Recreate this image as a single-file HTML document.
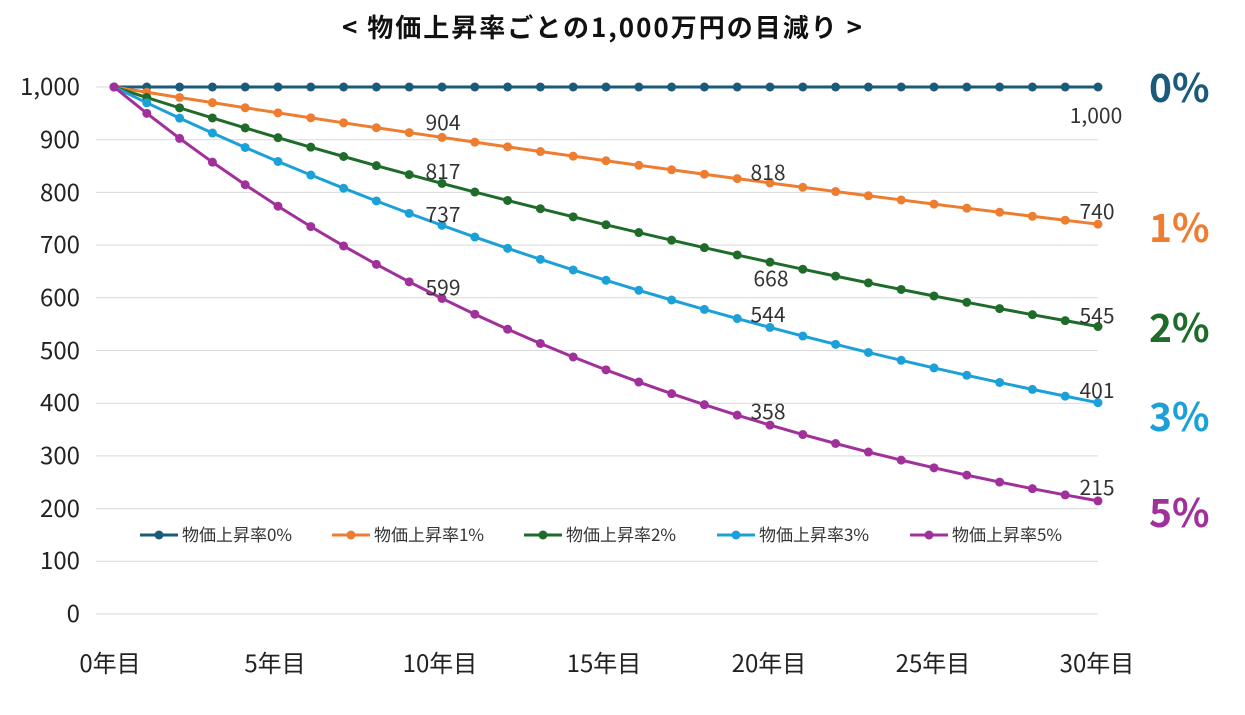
<!DOCTYPE html>
<html><head><meta charset="utf-8"><style>
body{margin:0;background:#fff;}
svg{display:block;font-family:"Noto Sans CJK JP","Liberation Sans",sans-serif;}
</style></head><body>
<svg id="c" width="1245" height="715" xmlns="http://www.w3.org/2000/svg">
<text x="603" y="37" text-anchor="middle" font-size="26" font-weight="bold" letter-spacing="2" fill="#111">&lt; 物価上昇率ごとの1,000万円の目減り &gt;</text>
<g id="grid" stroke="#d9d9d9" stroke-width="1"></g>
<g font-size="24" fill="#222" text-anchor="end">
<text x="80" y="95">1,000</text><text x="80" y="148">900</text><text x="80" y="201">800</text><text x="80" y="253">700</text><text x="80" y="306">600</text><text x="80" y="359">500</text><text x="80" y="411">400</text><text x="80" y="464">300</text><text x="80" y="517">200</text><text x="80" y="569">100</text><text x="80" y="622">0</text>
</g>
<g font-size="24" fill="#222" text-anchor="middle">
<text x="110" y="672">0年目</text><text x="275" y="672">5年目</text><text x="440" y="672">10年目</text><text x="604" y="672">15年目</text><text x="769" y="672">20年目</text><text x="933" y="672">25年目</text><text x="1097" y="672">30年目</text>
</g>
<g id="series"></g>
<g font-size="21" fill="#333" text-anchor="middle">
<text x="1096" y="123">1,000</text>
<text x="443" y="130">904</text><text x="768" y="180">818</text><text x="1097" y="219">740</text>
<text x="443" y="179">817</text><text x="771" y="286">668</text><text x="1097" y="323">545</text>
<text x="443" y="222">737</text><text x="768" y="322">544</text><text x="1097" y="398">401</text>
<text x="443" y="295">599</text><text x="768" y="419">358</text><text x="1097" y="495">215</text>
</g>
<g font-size="39" font-weight="bold">
<text x="1149" y="102" fill="#1a5a7a">0%</text>
<text x="1149" y="242" fill="#ed7d31">1%</text>
<text x="1149" y="342" fill="#1e6b2a">2%</text>
<text x="1149" y="431" fill="#1ba1d8">3%</text>
<text x="1149" y="527" fill="#a0309a">5%</text>
</g>
<g id="legend" font-size="17" fill="#333">
<text x="182" y="541">物価上昇率0%</text>
<text x="374" y="541">物価上昇率1%</text>
<text x="566" y="541">物価上昇率2%</text>
<text x="759" y="541">物価上昇率3%</text>
<text x="952" y="541">物価上昇率5%</text>
</g>
</svg>
<script>
var NS="http://www.w3.org/2000/svg";
function el(t,a,p){var e=document.createElementNS(NS,t);for(var k in a)e.setAttribute(k,a[k]);p.appendChild(e);return e;}
var g=document.getElementById('grid');
for(var i=0;i<=10;i++){var y=87+i*52.7;el('line',{x1:96,x2:1098,y1:y,y2:y},g);}
var s=document.getElementById('series'),lg=document.getElementById('legend');
var S=[[0,'#1a5a7a',140],[0.01,'#ed7d31',332],[0.02,'#1e6b2a',524],[0.03,'#1ba1d8',717],[0.05,'#a0309a',910]];
S.forEach(function(d){
 var pts=[];
 for(var n=0;n<=30;n++){var v=1000*Math.pow(1-d[0],n);pts.push([114+n*32.8,614-v*0.527]);}
 el('polyline',{points:pts.map(function(p){return p.join(',')}).join(' '),fill:'none',stroke:d[1],'stroke-width':3},s);
 pts.forEach(function(p){el('circle',{cx:p[0],cy:p[1],r:4.5,fill:d[1]},s);});
 el('line',{x1:d[2],x2:d[2]+38,y1:535,y2:535,stroke:d[1],'stroke-width':3},lg);
 el('circle',{cx:d[2]+19,cy:535,r:4.5,fill:d[1]},lg);
});
</script>
</body></html>
